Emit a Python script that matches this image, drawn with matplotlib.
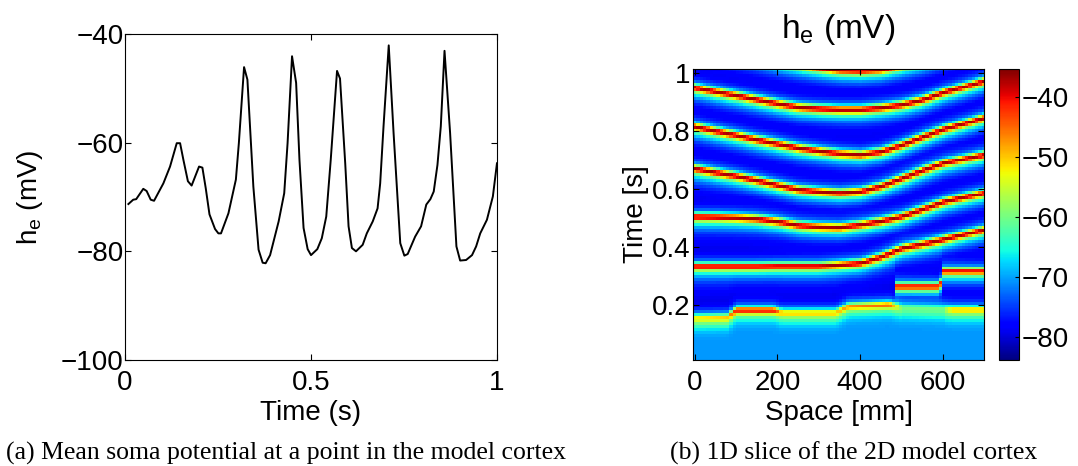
import matplotlib
matplotlib.use("Agg")
import matplotlib.pyplot as plt
import numpy as np

plt.rcParams['font.family'] = ['Liberation Sans', 'DejaVu Sans']
plt.rcParams['mathtext.fontset'] = 'custom'
plt.rcParams['mathtext.rm'] = 'Liberation Sans'
plt.rcParams['mathtext.it'] = 'Liberation Sans'
plt.rcParams['mathtext.default'] = 'regular'
plt.rcParams['font.size'] = 20

# (a) potential at one point
time_s = [0.009, 0.022, 0.030, 0.049, 0.058, 0.069, 0.078, 0.103, 0.121, 0.139,
          0.148, 0.157, 0.169, 0.179, 0.199, 0.208, 0.217, 0.227, 0.242, 0.251,
          0.258, 0.278, 0.298, 0.306, 0.320, 0.329, 0.345, 0.359, 0.370, 0.378,
          0.390, 0.413, 0.428, 0.437, 0.449, 0.460, 0.469, 0.480, 0.491, 0.500,
          0.517, 0.529, 0.541, 0.553, 0.570, 0.578, 0.592, 0.601, 0.610, 0.621,
          0.639, 0.650, 0.666, 0.679, 0.686, 0.695, 0.709, 0.722, 0.740, 0.751,
          0.760, 0.780, 0.796, 0.810, 0.821, 0.830, 0.840, 0.849, 0.859, 0.874,
          0.891, 0.901, 0.917, 0.933, 0.944, 0.955, 0.973, 0.989, 1.000]
he_mv = [-71.3, -70.5, -70.4, -68.5, -68.9, -70.5, -70.7, -67.5, -64.4, -60.1,
         -60.1, -63.2, -67.1, -67.9, -64.4, -64.6, -68.4, -73.2, -75.9, -76.7,
         -76.7, -73.0, -66.8, -60.1, -46.1, -48.4, -68.1, -79.7, -82.1, -82.2,
         -80.7, -74.5, -69.3, -60.1, -44.1, -49.0, -63.2, -75.7, -79.6, -80.7,
         -79.6, -77.6, -73.6, -63.2, -46.8, -48.2, -63.8, -75.4, -79.4, -80.0,
         -78.8, -76.7, -74.5, -72.1, -67.5, -57.0, -42.1, -58.2, -78.5, -80.8,
         -80.5, -77.3, -75.4, -71.4, -70.4, -69.0, -64.1, -57.0, -43.1, -58.2,
         -79.1, -81.7, -81.6, -80.7, -79.1, -76.7, -74.2, -69.9, -63.8]

# (b) arrival time of each wave front along the slice
space_mm = [0, 50, 100, 150, 200, 250, 300, 350, 400, 450, 500, 550, 600, 650, 700]
front2_s = [0.332, 0.332, 0.332, 0.332, 0.333, 0.333, 0.333, 0.338, 0.344, 0.365,
            0.394, 0.408, 0.424, 0.442, 0.459]
front3_s = [0.503, 0.502, 0.500, 0.496, 0.487, 0.474, 0.469, 0.467, 0.476, 0.488,
            0.504, 0.528, 0.553, 0.570, 0.585]
front4_s = [0.668, 0.655, 0.643, 0.628, 0.612, 0.597, 0.590, 0.585, 0.590, 0.608,
            0.635, 0.662, 0.687, 0.702, 0.717]
front5_s = [0.812, 0.797, 0.783, 0.768, 0.754, 0.740, 0.730, 0.721, 0.717, 0.727,
            0.750, 0.777, 0.803, 0.823, 0.844]
front6_s = [0.947, 0.933, 0.920, 0.906, 0.892, 0.880, 0.875, 0.872, 0.872, 0.878,
            0.888, 0.905, 0.930, 0.950, 0.971]
front7_s = [1.100, 1.085, 1.070, 1.055, 1.040, 1.028, 1.017, 1.008, 1.006, 1.010,
            1.025, 1.040, 1.060, 1.080, 1.100]
wave_peak_mv = -37.0

# early, weaker front
first_mm = [0, 80, 100, 190, 210, 340, 370, 470, 500, 600, 620, 700]
first_s = [0.153, 0.155, 0.180, 0.180, 0.171, 0.171, 0.194, 0.200, 0.190, 0.185, 0.182, 0.182]
first_peak_mv = [-52, -50, -40, -40, -50, -50, -47, -44, -60, -60, -50, -50]

# extra front on the right side only
branch_mm = [485, 590, 600, 700]
branch_s = [0.263, 0.263, 0.315, 0.315]
branch_peak_mv = -40.0

x_cols = np.arange(0, 700, 8)
t_rows = 0.01 + (np.arange(100) + 0.5) * (1.005 / 100)

fronts = []
fronts.append((np.interp(x_cols, first_mm, first_s), np.interp(x_cols, first_mm, first_peak_mv),
               np.ones_like(x_cols, dtype=bool)))
fronts.append((np.interp(x_cols, branch_mm, branch_s), np.full(x_cols.shape, branch_peak_mv),
               x_cols >= branch_mm[0]))
for fr in [front2_s, front3_s, front4_s, front5_s, front6_s, front7_s]:
    fronts.append((np.interp(x_cols, space_mm, fr), np.full(x_cols.shape, wave_peak_mv),
                   np.ones_like(x_cols, dtype=bool)))

field = np.zeros((len(t_rows), len(x_cols)))
w_core = 0.012
w_halo = 0.035
halo_mv = 13.0
for j in range(len(x_cols)):
    ts = sorted([(f[0][j], f[1][j]) for f in fronts if f[2][j]])
    times = np.array([a for a, b in ts])
    peaks = np.array([b for a, b in ts])
    for i, t in enumerate(t_rows):
        prev = times[times <= t]
        nxt = times[times > t]
        if len(prev) == 0:
            base = -70.5
        else:
            since = t - prev[-1]
            if len(nxt):
                f = since / (nxt[0] - prev[-1])
            else:
                f = min(since / 0.14, 1.0)
            base = -82.0 + 11.0 * f ** 1.5
        dt = t - times
        amp = np.maximum(peaks - base, 0)
        halo = np.minimum(halo_mv, amp) * np.exp(-(dt / w_halo) ** 2)
        core = (amp - np.minimum(halo_mv, amp)) * np.exp(-(dt / w_core) ** 2)
        field[i, j] = base + np.max(core + halo)

fig = plt.figure(figsize=(10.78, 4.66), dpi=100)

ax1 = fig.add_axes([0.116, 0.2275, 0.345, 0.6996])
ax1.plot(time_s, he_mv, color='black', lw=1.4)
ax1.set_xlim(0, 1)
ax1.set_ylim(-100, -40)
ax1.set_xticks([0, 0.5, 1])
ax1.set_xticklabels(['0', '0.5', '1'])
ax1.set_yticks([-100, -80, -60, -40])
ax1.set_xlabel('Time (s)', labelpad=3)
ax1.set_ylabel('h$_e$ (mV)')
ax1.yaxis.set_label_coords(-0.215, 0.5)
ax1.tick_params(direction='in', top=True, right=True, length=4, width=0.8)
ax1.tick_params(axis='x', pad=7)
ax1.tick_params(axis='y', pad=1)
for s in ax1.spines.values():
    s.set_linewidth(0.8)

ax2 = fig.add_axes([0.6429, 0.2275, 0.27, 0.6245])
im = ax2.imshow(field, cmap='jet', vmin=-83.8, vmax=-35.3, origin='lower', aspect='auto',
                interpolation='nearest', extent=[-4, 700, 0.01, 1.015])
ax2.set_xticks([0, 200, 400, 600])
ax2.set_yticks([0.2, 0.4, 0.6, 0.8, 1])
ax2.set_yticklabels(['0.2', '0.4', '0.6', '0.8', '1'])
ax2.set_xlabel('Space [mm]', labelpad=3)
ax2.set_ylabel('Time [s]', labelpad=2)
ax2.set_title('h$_e$ (mV)', pad=22)
ax2.tick_params(direction='in', top=True, right=True, length=4, width=0.8)
ax2.tick_params(axis='x', pad=7)
ax2.tick_params(axis='y', pad=2)
for s in ax2.spines.values():
    s.set_linewidth(0.8)

cax = fig.add_axes([0.9267, 0.2275, 0.01855, 0.6245])
cb = fig.colorbar(im, cax=cax, ticks=[-80, -70, -60, -50, -40])
cb.ax.tick_params(direction='in', length=3, width=0.8, pad=2)
cb.outline.set_linewidth(0.8)

fig.text(0.265, 0.013, '(a) Mean soma potential at a point in the model cortex',
         family='Liberation Serif', fontsize=18.5, ha='center', va='baseline')
fig.text(0.792, 0.013, '(b) 1D slice of the 2D model cortex',
         family='Liberation Serif', fontsize=18.5, ha='center', va='baseline')

fig.savefig('out.png', dpi=100)
